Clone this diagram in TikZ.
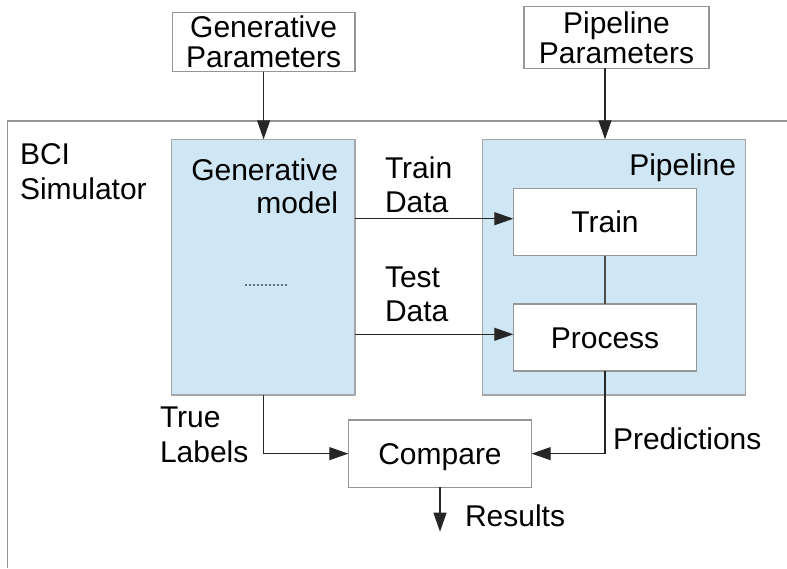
\documentclass[tikz,border=0pt]{standalone}
\usepackage{fontspec}
\setmainfont{Liberation Sans}
\usetikzlibrary{arrows.meta}
\definecolor{lblue}{RGB}{207,230,244}
\definecolor{bord}{RGB}{150,150,150}
\definecolor{dotc}{RGB}{95,110,125}
\begin{document}
\begin{tikzpicture}[x=1pt,y=-1pt,
  every node/.style={font=\fontsize{30}{34}\selectfont, inner sep=0pt, outer sep=0pt},
  wbox/.style={draw=bord, line width=1.2pt, fill=white, text height=21.5pt, text depth=0pt},
  pbox/.style={draw=bord, line width=1.2pt, fill=white, align=center, font=\fontsize{30}{30}\selectfont},
  bbox/.style={draw=bord!85, fill=lblue, line width=1.2pt},
  txt/.style={align=left, anchor=north west},
  arr/.style={line width=1.1pt, draw=black!85, -{Triangle[length=19pt,width=13pt]}},
  ln/.style={line width=1.1pt, draw=black!70}]
\useasboundingbox (0,0) rectangle (787,568);
% outer frame
\draw[bord, line width=1.2pt] (7.5,568) -- (7.5,121) -- (787,121);
% parameter boxes
\node[pbox, minimum width=182.7pt, minimum height=59pt] (gp) at (263.6,42.2) {Generative\\Parameters};
\node[pbox, minimum width=185pt, minimum height=61.6pt] (pp) at (616.5,37.5) {Pipeline\\Parameters};
% blue boxes
\node[bbox, minimum width=183.3pt, minimum height=255.7pt] (gm) at (263.35,267.15) {};
\node[bbox, minimum width=262.6pt, minimum height=255.7pt] (pl) at (614,267.15) {};
% white boxes
\node[wbox, minimum width=183.4pt, minimum height=67.4pt] (train) at (605,222) {Train};
\node[wbox, minimum width=183.4pt, minimum height=67pt] (process) at (605,337.5) {Process};
\node[wbox, minimum width=183.4pt, minimum height=67.3pt] (cmp) at (440,453.65) {Compare};
% texts
\node[txt, font=\fontsize{30}{35}\selectfont] (bci) at (20,143.5) {BCI\\Simulator};
\node[anchor=north east, align=right, font=\fontsize{30}{33}\selectfont] (gmt) at (338,158.5) {Generative\\model};
\node[anchor=base east] (plt) at (736,175) {Pipeline};
\node[txt] (trd) at (385,156.5) {Train\\Data};
\node[txt] (ted) at (385,266.5) {Test\\Data};
\node[txt, font=\fontsize{30}{34.7}\selectfont] (tl) at (160,406.8) {True\\Labels};
\node[anchor=base west] (pr) at (613,449) {Predictions};
\node[anchor=base west] (rs) at (465,526.7) {Results};
% dotted mark
\draw[dotc, line width=1.3pt, dash pattern=on 2pt off 2pt] (245,285) -- (287,285);
% connectors
\coordinate (tin) at ([yshift=3.3pt]train.west);
\coordinate (pin) at ([yshift=3.2pt]process.west);
\coordinate (rend) at (440,531.7);
\draw[arr] (gp.south) -- (gp.south |- gm.north);
\draw[arr] (train |- pp.south) -- (train |- pl.north);
\draw[arr] (gm.east |- tin) -- (tin);
\draw[arr] (gm.east |- pin) -- (pin);
\draw[ln] (train) -- (process);
\draw[arr] (gm.south) |- (cmp.west);
\draw[arr] (process.south) |- (cmp.east);
\draw[arr] (cmp.south) -- (rend);
\end{tikzpicture}
\end{document}
